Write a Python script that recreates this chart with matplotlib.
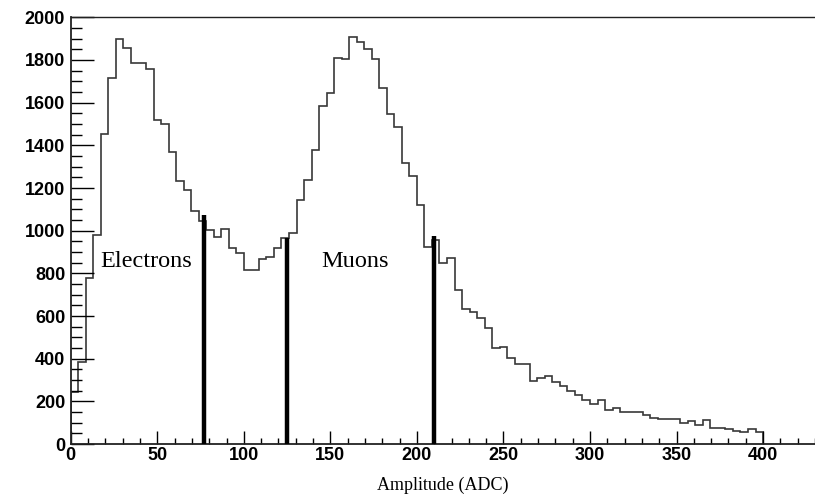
#!/bin/env python

import numpy as np
import matplotlib
matplotlib.use("Agg")
import matplotlib.pyplot as plt
from matplotlib.ticker import MultipleLocator

# histogram counts, 92 bins spanning 0-400 ADC
counts = [245, 383, 778, 981, 1451, 1717, 1897, 1858, 1787, 1787,
          1759, 1521, 1502, 1369, 1232, 1192, 1094, 1044, 1003, 971,
          1008, 920, 895, 817, 817, 867, 875, 919, 966, 989,
          1142, 1236, 1380, 1584, 1646, 1811, 1806, 1908, 1884, 1850,
          1806, 1668, 1545, 1486, 1318, 1255, 1122, 925, 958, 847,
          872, 723, 633, 621, 590, 543, 448, 454, 404, 374,
          375, 297, 308, 320, 292, 273, 250, 231, 208, 186,
          208, 160, 167, 150, 150, 150, 138, 124, 117, 117,
          117, 97, 108, 89, 113, 77, 77, 69, 61, 57,
          71, 58]
hist_range = (0, 400)

# cut positions and the height of the drawn cut lines
cut_x = [76.9, 125.0, 209.8]
cut_top = [1075, 966, 977]

labels = ["Electrons", "Muons"]
label_x = [17, 145]
label_y = [854, 854]


def main():
    edges = np.linspace(hist_range[0], hist_range[1], len(counts) + 1)

    fig = plt.figure(figsize=(8.15, 4.95), dpi=100)
    ax = fig.add_axes([0.0868, 0.103, 0.9132, 0.862])

    ax.stairs(counts, edges, baseline=0, color="#383838", linewidth=1.2)
    ax.vlines(cut_x, 0, cut_top, colors="black", linewidth=3.2, zorder=3)

    for txt, x, y in zip(labels, label_x, label_y):
        ax.text(x, y, txt, fontsize=17.5, family="Liberation Serif",
                va="center", ha="left")

    ax.set_xlim(0, 430)
    ax.set_ylim(0, 2000)
    ax.set_xlabel("Amplitude (ADC)", family="Liberation Serif", fontsize=13, labelpad=9)

    ax.xaxis.set_major_locator(MultipleLocator(50))
    ax.xaxis.set_minor_locator(MultipleLocator(10))
    ax.yaxis.set_major_locator(MultipleLocator(200))
    ax.yaxis.set_minor_locator(MultipleLocator(50))
    ax.tick_params(axis="x", which="major", direction="in", length=9.5, width=1, pad=2)
    ax.tick_params(axis="x", which="minor", direction="in", length=4.5, width=1)
    ax.tick_params(axis="y", which="major", direction="in", length=16.5, width=1, pad=4)
    ax.tick_params(axis="y", which="minor", direction="in", length=8, width=1)
    for lab in ax.get_xticklabels() + ax.get_yticklabels():
        lab.set_family("Liberation Sans")
        lab.set_fontweight("bold")
        lab.set_fontsize(13)

    ax.spines["right"].set_visible(False)
    ax.spines["left"].set_linewidth(1.3)
    ax.spines["bottom"].set_linewidth(1.3)
    ax.spines["top"].set_linewidth(1.0)
    for s in ax.spines.values():
        s.set_color("#222222")

    fig.savefig("out.png", dpi=100)
    plt.close(fig)


if __name__ == '__main__':
    main()
